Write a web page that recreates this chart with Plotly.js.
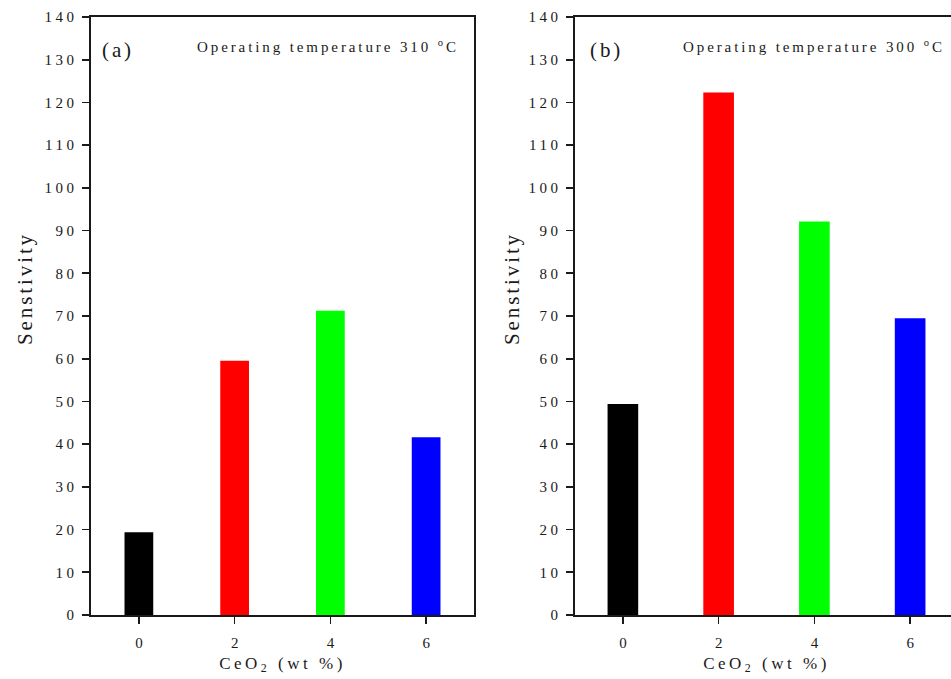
<!DOCTYPE html>
<html>
<head>
<meta charset="utf-8">
<script src="https://cdn.plot.ly/plotly-3.0.1.min.js"></script>
<style>
html, body { margin: 0; padding: 0; overflow: hidden; background: #fff; }
#chart { width: 960px; height: 679px; }
.annotation-text { letter-spacing: 2.9px; }
.xtitle, .x2title { letter-spacing: 3.5px; }
.yaxislayer-above text { letter-spacing: 3.5px; }
</style>
</head>
<body>
<div id="chart"></div>
<script>
// Data
const ceo2 = [0, 2, 4, 6];
const sensA = [19.4, 59.5, 71.2, 41.6];   // panel (a), 310 °C
const sensB = [49.4, 122.3, 92.1, 69.5];  // panel (b), 300 °C
const barColors = ['#000000', '#ff0000', '#00ff00', '#0000ff'];
const labelA = '(a)';
const labelB = '(b)';
const tempA = 'Operating temperature 310 <sup>o</sup>C';
const tempB = 'Operating temperature 300 <sup>o</sup>C';
const xTitle = 'CeO<sub>2</sub> (wt %)';
const yTitle = 'Senstivity';

const W = 960, H = 679;
const serif = 'Liberation Serif, Times New Roman, serif';
const ink = '#1a1a1a';

const traces = [
  { type: 'bar', x: ceo2, y: sensA, width: 0.6, marker: { color: barColors }, xaxis: 'x', yaxis: 'y', hoverinfo: 'x+y' },
  { type: 'bar', x: ceo2, y: sensB, width: 0.64, marker: { color: barColors }, xaxis: 'x2', yaxis: 'y2', hoverinfo: 'x+y' }
];

function xa(d) {
  return {
    domain: d, range: [-1, 7], tickvals: ceo2, ticktext: ceo2.map(String),
    showline: true, mirror: true, linecolor: ink, linewidth: 1.6,
    ticks: 'outside', ticklen: 7, tickwidth: 1.6, tickcolor: ink,
    showgrid: false, zeroline: false, ticklabelstandoff: 6,
    tickfont: { family: serif, size: 15, color: ink },
    title: { text: xTitle, font: { family: serif, size: 17, color: ink }, standoff: 7 }
  };
}
function ya(d, anchor) {
  return {
    domain: d, range: [0, 140], dtick: 10, tick0: 0, anchor: anchor,
    showline: true, mirror: true, linecolor: ink, linewidth: 1.6,
    ticks: 'outside', ticklen: 7, tickwidth: 1.6, tickcolor: ink,
    showgrid: false, zeroline: false, ticklabelstandoff: 2,
    tickfont: { family: serif, size: 15, color: ink }
  };
}

const yd = [64 / H, 662 / H];
const yTitleY = 1 - 289 / H;
const layout = {
  width: W, height: H,
  margin: { l: 0, r: 0, t: 0, b: 0 },
  paper_bgcolor: '#fff', plot_bgcolor: '#fff',
  showlegend: false,
  xaxis: Object.assign(xa([91 / W, 474 / W]), { anchor: 'y' }),
  yaxis: ya(yd, 'x'),
  xaxis2: Object.assign(xa([575 / W, 958 / W]), { anchor: 'y2' }),
  yaxis2: ya(yd, 'x2'),
  annotations: [
    { xref: 'paper', yref: 'paper', x: 25 / W, y: yTitleY, text: yTitle, textangle: -90, showarrow: false, xanchor: 'center', yanchor: 'middle', font: { family: serif, size: 21, color: ink } },
    { xref: 'paper', yref: 'paper', x: 512 / W, y: yTitleY, text: yTitle, textangle: -90, showarrow: false, xanchor: 'center', yanchor: 'middle', font: { family: serif, size: 21, color: ink } },
    { xref: 'x', yref: 'y', x: -0.82, y: 132.2, text: labelA, showarrow: false, xanchor: 'left', yanchor: 'middle', font: { family: serif, size: 21, color: ink } },
    { xref: 'x', yref: 'y', x: 6.72, y: 133.2, text: tempA, showarrow: false, xanchor: 'right', yanchor: 'middle', font: { family: serif, size: 15, color: ink } },
    { xref: 'x2', yref: 'y2', x: -0.72, y: 132.2, text: labelB, showarrow: false, xanchor: 'left', yanchor: 'middle', font: { family: serif, size: 21, color: ink } },
    { xref: 'x2', yref: 'y2', x: 1.22, y: 133.2, text: tempB, showarrow: false, xanchor: 'left', yanchor: 'middle', font: { family: serif, size: 15, color: ink } }
  ]
};

Plotly.newPlot('chart', traces, layout, { displayModeBar: false, staticPlot: true });
</script>
</body>
</html>
